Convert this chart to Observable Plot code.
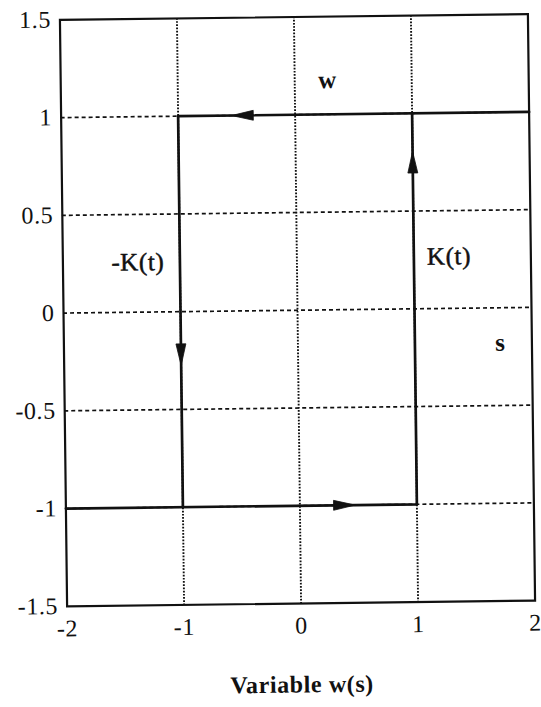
<!DOCTYPE html>
<html>
<head>
<meta charset="utf-8">
<script src="https://cdn.jsdelivr.net/npm/d3@7"></script>
<script src="https://cdn.jsdelivr.net/npm/@observablehq/plot@0.6"></script>
<style>
  html, body { margin: 0; padding: 0; background: #fff; }
  #chart svg { transform: rotate(-0.7deg); transform-origin: 297px 310px; }
  #chart svg text { letter-spacing: 0.6px; }
  #chart svg .lbl text { letter-spacing: 2.2px; }
</style>
</head>
<body>
<div id="chart"></div>
<script>
// Tick values
const xTicks = [-2, -1, 0, 1, 2];
const yTicks = [-1.5, -1, -0.5, 0, 0.5, 1, 1.5];
const xGrid = [-1, 0, 1];
const yGrid = [-1, -0.5, 0, 0.5, 1];

// Path segments of the loop
const upperX = [2, -1, -1];
const upperY = [1, 1, -1];
const lowerX = [-2, 1, 1];
const lowerY = [-1, -1, 1];

// Arrowheads along the loop (position and direction in degrees)
const arrowX = [-0.45, -1, 0.38, 1];
const arrowY = [1, -0.22, -1, 0.75];
const arrowDir = [270, 180, 90, 0];

// Annotations
const labelText = ["w", "-K(t)", "K(t)", "s"];
const labelX = [0.28, -1.36, 1.3, 1.73];
const labelY = [1.175, 0.255, 0.266, -0.178];

const upper = upperX.map((x, i) => ({x, y: upperY[i]}));
const lower = lowerX.map((x, i) => ({x, y: lowerY[i]}));
const arrows = arrowX.map((x, i) => ({x, y: arrowY[i], a: arrowDir[i]}));
const labels = labelText.map((t, i) => ({t, x: labelX[i], y: labelY[i], bold: t.length === 1}));

const arrowHead = {
  draw(context, size) {
    const r = Math.sqrt(size / Math.PI);
    context.moveTo(0, -1.2 * r);
    context.lineTo(0.55 * r, 1.2 * r);
    context.lineTo(-0.55 * r, 1.2 * r);
    context.closePath();
  }
};

const fontFam = "'Liberation Serif', 'Times New Roman', serif";

const chart = Plot.plot({
  width: 541,
  height: 707,
  marginLeft: 63,
  marginRight: 10,
  marginTop: 16.5,
  marginBottom: 104,
  style: {fontFamily: fontFam, fontSize: "24px", color: "#111", background: "#fff", overflow: "visible"},
  x: {domain: [-2, 2], ticks: xTicks, tickFormat: d => String(d)},
  y: {domain: [-1.5, 1.5], ticks: yTicks, tickFormat: d => String(d)},
  marks: [
    Plot.ruleY(yGrid, {stroke: "#111", strokeWidth: 1.7, strokeDasharray: "4,3"}),
    Plot.ruleX(xGrid, {stroke: "#111", strokeWidth: 1.9, strokeDasharray: "1.7,1.5"}),
    Plot.line(upper, {x: "x", y: "y", stroke: "#111", strokeWidth: 2.7}),
    Plot.line(lower, {x: "x", y: "y", stroke: "#111", strokeWidth: 2.7}),
    Plot.dot(arrows, {x: "x", y: "y", rotate: "a", r: 9, symbol: arrowHead, fill: "#111", stroke: "#111", strokeWidth: 0.8}),
    Plot.text(labels.filter(d => !d.bold), {x: "x", y: "y", text: "t", fontSize: 25, fill: "#111", stroke: "#111", strokeWidth: 0.5}),
    Plot.text(labels.filter(d => d.bold), {x: "x", y: "y", text: "t", fontSize: 25, fontWeight: "bold", fill: "#111"}),
    Plot.frame({stroke: "#111", strokeWidth: 2.2}),
    Plot.axisX({ticks: xTicks, tickFormat: d => String(d), tickSize: 0, tickPadding: 13,
      label: null, fontSize: 24, stroke: "#111", strokeWidth: 0.45}),
    Plot.axisY({ticks: yTicks, tickFormat: d => String(d), tickSize: 0, tickPadding: 9, label: null, fontSize: 24, stroke: "#111", strokeWidth: 0.45}),
    Plot.axisX({ticks: [], tickSize: 0, label: "Variable w(s)", labelAnchor: "center", labelOffset: 89,
      labelArrow: "none", fontSize: 24, fontWeight: "bold", className: "lbl"})
  ]
});
document.getElementById("chart").appendChild(chart);
</script>
</body>
</html>
